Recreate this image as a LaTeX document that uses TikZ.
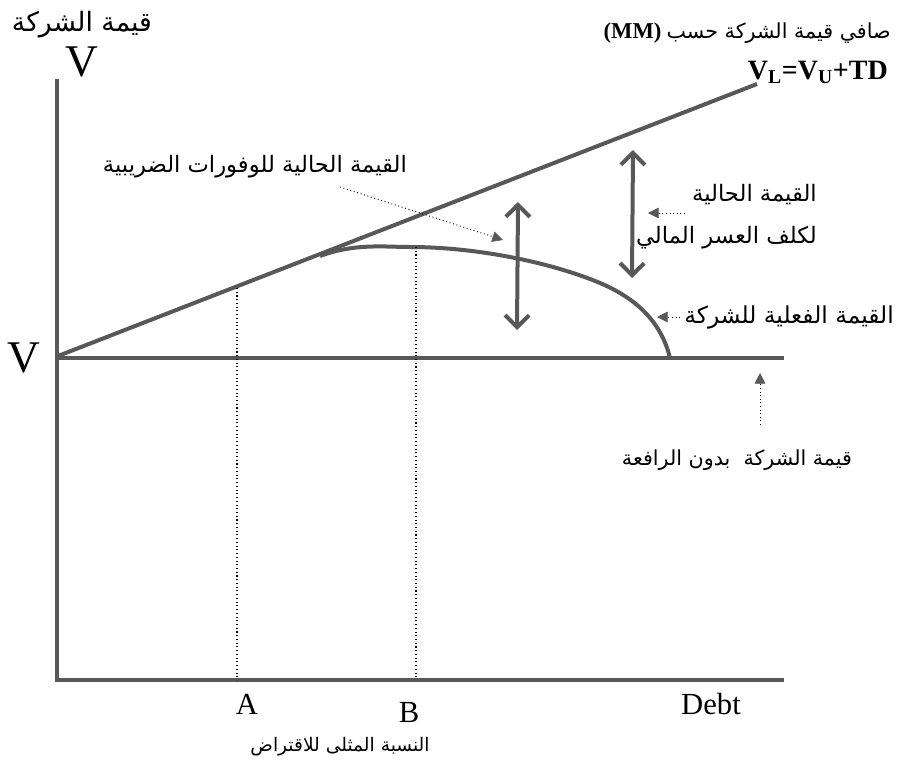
\documentclass[tikz,border=0pt]{standalone}
\usepackage{fontspec}
\setmainfont{Liberation Serif}
\newfontfamily\arabicfont[Script=Arabic]{DejaVu Sans}
\TeXXeTstate=1
\usetikzlibrary{arrows.meta}

% Arabic text run, right to left
\newcommand{\artext}[1]{{\arabicfont\beginR #1\endR}}

\definecolor{inkgray}{RGB}{88,88,88}

\tikzset{
  axisline/.style={draw=inkgray, line width=3pt},
  valueline/.style={draw=inkgray, line width=3pt},
  gapline/.style={draw=black, line width=0.8pt, dotted},
  bigarrow/.style={draw=inkgray, line width=3pt,
    {Straight Barb[length=9pt,width=18pt]}-{Straight Barb[length=9pt,width=18pt]}},
  pointer/.style={draw=black, line width=0.7pt, dotted,
    -{Triangle[length=8pt,width=8pt,color=inkgray,fill=inkgray,line width=0.5pt]}},
  arlabel/.style={font=\fontsize{#1}{#1}\selectfont, inner sep=0pt},
  arlabel/.default=16,
  latinlabel/.style={font=\fontsize{23}{25}\selectfont, inner sep=0pt},
  biglabel/.style={font=\fontsize{34}{36}\selectfont, inner sep=0pt},
}

\begin{document}
\begin{tikzpicture}[x=0.75pt,y=-0.75pt]
  \useasboundingbox (0,0) rectangle (899,761);

  % key points of the chart
  \coordinate (origin) at (57,680);
  \coordinate (ytop)   at (57,79);
  \coordinate (xend)   at (784,680);
  \coordinate (vu0)    at (57,358);
  \coordinate (vu1)    at (784,358);
  \coordinate (vl0)    at (58,356);
  \coordinate (vl1)    at (757,84);
  \coordinate (tan)    at (320,256);
  \coordinate (peak)   at (410,247);
  \coordinate (bend)   at (600,283);
  \coordinate (drop)   at (670,358);
  \coordinate (aTop)   at (237,288);
  \coordinate (aBot)   at (237,680);
  \coordinate (bTop)   at (416,247);
  \coordinate (bBot)   at (416,680);

  % axes and the unlevered value
  \draw[axisline] (ytop) -- (origin) -- (xend);
  \draw[axisline] (vu0) -- (vu1);

  % value with tax shield (MM)
  \draw[valueline] (vl0) -- (vl1);

  % actual firm value
  \draw[valueline] (tan) .. controls (355,243) and (385,247) .. (peak)
    .. controls (475,247) and (550,262) .. (bend)
    .. controls (640,300) and (662,325) .. (drop);

  % dotted guides to A and B
  \draw[gapline] (aTop) -- (aBot);
  \draw[gapline] (bTop) -- (bBot);

  % double arrows
  \coordinate (s1) at (518,202);
  \coordinate (s2) at (517,330);
  \coordinate (d1) at (633,150);
  \coordinate (d2) at (632,278);
  \draw[bigarrow] (s1) -- (s2);
  \draw[bigarrow] (d1) -- (d2);

  % texts
  \node[arlabel=20] (ttl) at (82,25) {\artext{قيمة الشركة}};
  \node[biglabel] (vtop) at (82,62) {V};
  \node[biglabel] (vleft) at (24,358) {V};
  \node[arlabel=15.5, anchor=east] (mm) at (891,33)
    {{\bfseries\fontsize{17}{18}\selectfont (MM)}\ \artext{صافي قيمة الشركة حسب}};
  \node[font=\bfseries\fontsize{21}{22}\selectfont, inner sep=0pt, anchor=east] (vl) at (888,72)
    {V\textsubscript{L}=V\textsubscript{U}+TD};
  \node[arlabel=17, anchor=east] (shield) at (407,167) {\artext{القيمة الحالية للوفورات الضريبية}};
  \node[arlabel=17, anchor=east] (pv1) at (817,195) {\artext{القيمة الحالية}};
  \node[arlabel=17, anchor=east] (pv2) at (817,238) {\artext{لكلف العسر المالي}};
  \node[arlabel=17.5, anchor=east] (actual) at (894,317) {\artext{القيمة الفعلية للشركة}};
  \node[arlabel=15.5] (unlev) at (737,460) {\artext{قيمة الشركة\ \ بدون الرافعة}};
  \node[latinlabel] (la) at (247,704) {A};
  \node[latinlabel] (lb) at (409,712) {B};
  \node[latinlabel] (debt) at (711,704) {Debt};
  \node[arlabel=14] (opt) at (340,747) {\artext{النسبة المثلى للاقتراض}};

  % dotted pointers
  \coordinate (p1s) at (340,187);
  \coordinate (p1e) at (503,240);
  \coordinate (p2s) at (685,213);
  \coordinate (p2e) at (648,213);
  \coordinate (p3s) at ([xshift=-3pt]actual.west);
  \coordinate (p3e) at (657,317);
  \coordinate (p4s) at (760,425);
  \coordinate (p4e) at (760,373);
  \draw[pointer] (p1s) -- (p1e);
  \draw[pointer] (p2s) -- (p2e);
  \draw[pointer] (p3s) -- (p3e);
  \draw[pointer] (p4s) -- (p4e);
\end{tikzpicture}
\end{document}
